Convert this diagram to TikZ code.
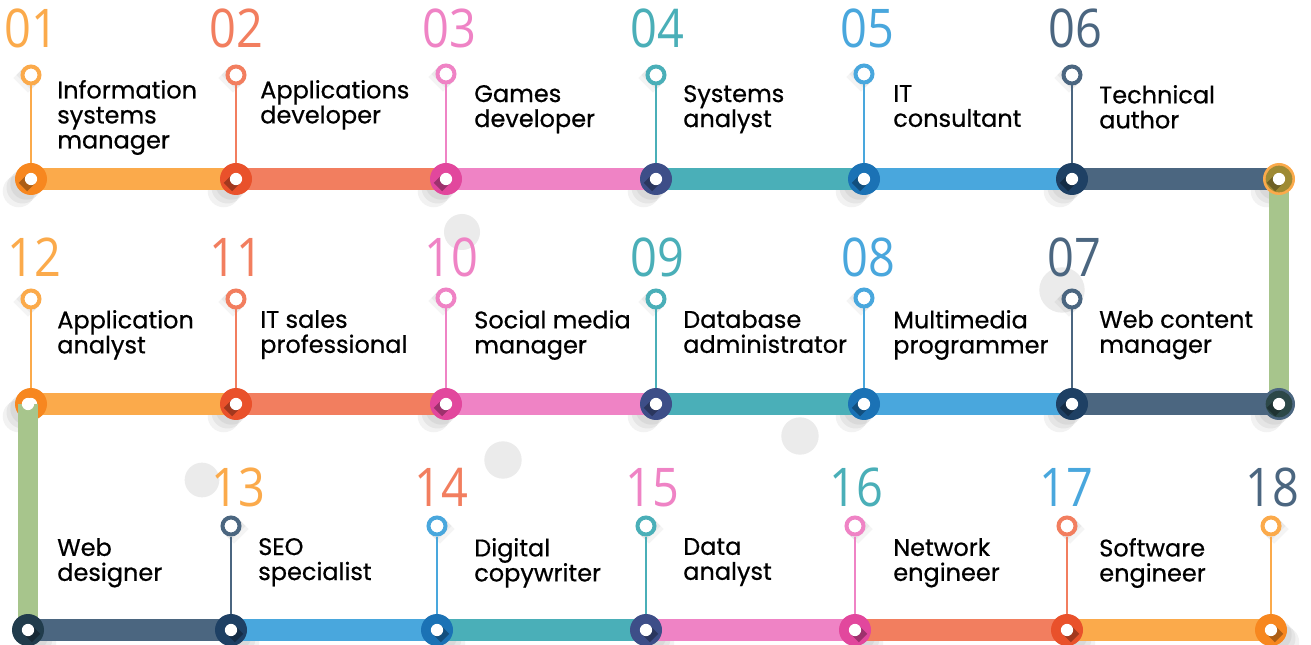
\documentclass[tikz,border=0pt]{standalone}
\usepackage{fontspec}
\setmainfont{Poppins}[UprightFeatures={FakeBold=0.6}]
\newfontfamily\numfont[FakeStretch=0.88]{Open Sans}
\definecolor{cO}{HTML}{FBAA4B}
\definecolor{cS}{HTML}{F27E5F}
\definecolor{cP}{HTML}{EF83C5}
\definecolor{cT}{HTML}{4AAFB8}
\definecolor{cB}{HTML}{49A7DD}
\definecolor{cL}{HTML}{4B6680}
\definecolor{cG}{HTML}{A7C58C}
\definecolor{dO}{HTML}{F7871F}
\definecolor{dS}{HTML}{E9512B}
\definecolor{dP}{HTML}{E2479D}
\definecolor{dT}{HTML}{3D4E88}
\definecolor{dB}{HTML}{1B72B5}
\definecolor{dL}{HTML}{1E4064}
\definecolor{kA}{HTML}{9E8A34}
\definecolor{kB}{HTML}{2C4848}
\definecolor{kC}{HTML}{213C4C}
\definecolor{bgc}{HTML}{EBEBEB}
% soft long shadow of a ring: coordinate, width, length, angle
\newcommand\lshad[4]{%
  \foreach \k in {0.35,0.7,1}{\draw[line width=#2,black,opacity=.045] (#1) -- ++(#4:{#3*\k});}}
% soft shadow of a junction disc: coordinate, angle
\newcommand\cshad[2]{%
  \foreach \k in {5,9,13}{\fill[black,opacity=.05] (#1) ++(#2:\k pt) circle[radius=12pt];}}
\newcommand\junc[3]{%
  \fill[#2] (#1) circle[radius=12pt];
  \draw[line width=9pt,black,opacity=.3] (#1) -- ++(#3:8.5pt);
  \fill[white] (#1) circle[radius=4.6pt];}
\begin{document}
\begin{tikzpicture}[x=0.75pt,y=-0.75pt,
  bar/.style={line width=17pt},
  vbar/.style={line width=15pt,cG},
  stem/.style={line width=1.9pt},
  ring/.style={circle,draw=#1,line width=3pt,fill=white,minimum size=12.75pt,inner sep=0},
  lab/.style={anchor=north west,inner sep=0,align=left,yshift=14pt,
    font=\fontsize{18}{18.75}\selectfont,execute at begin node={\rule{0pt}{14pt}}},
  num/.style={anchor=base,inner sep=0,text=#1,font=\numfont\fontsize{40}{40}\selectfont},
  blob/.style={fill=bgc}]
\useasboundingbox (0,0) rectangle (1311,645);
\fill[white] (0,0) rectangle (1311,645);
% decorative circles
\fill[blob] (462,232) circle[radius=13.5pt];
\fill[blob] (1062,290) circle[radius=17pt];
\fill[blob] (503,460) circle[radius=14pt];
\fill[blob] (800,436) circle[radius=14pt];
\fill[blob] (202,480) circle[radius=13pt];
% junction coordinates
\coordinate (j1) at (31,179);  \coordinate (j2) at (236,179);
\coordinate (j3) at (446,179); \coordinate (j4) at (656,179);
\coordinate (j5) at (864,179); \coordinate (j6) at (1072,179);
\coordinate (c1) at (1279,179);
\coordinate (j7) at (1072,404); \coordinate (j8) at (864,404);
\coordinate (j9) at (656,404);  \coordinate (j10) at (446,404);
\coordinate (j11) at (236,404); \coordinate (j12) at (31,404);
\coordinate (c2) at (1279,404); \coordinate (c3) at (28,404);
\coordinate (c4) at (28,630);
\coordinate (j13) at (231,630); \coordinate (j14) at (437,630);
\coordinate (j15) at (646,630); \coordinate (j16) at (855,630);
\coordinate (j17) at (1067,630); \coordinate (j18) at (1271,630);
% ring shadows
\foreach \x/\y in {31/75,236/75,446/74,656/75,864/74,1072/75,
                   1072/299,864/298,656/299,446/298,236/299,31/299}
  {\coordinate (tmp) at (\x,\y); \lshad{tmp}{15.5pt}{11pt}{225}}
\foreach \x/\y in {231/526,437/526,646/526,855/526,1067/526,1271/526}
  {\coordinate (tmp) at (\x,\y); \lshad{tmp}{15.5pt}{11pt}{315}}
% rings
\node[ring=cO] (r1) at (31,75) {};
\node[ring=cS] (r2) at (236,75) {};
\node[ring=cP] (r3) at (446,74) {};
\node[ring=cT] (r4) at (656,75) {};
\node[ring=cB] (r5) at (864,74) {};
\node[ring=cL] (r6) at (1072,75) {};
\node[ring=cL] (r7) at (1072,299) {};
\node[ring=cB] (r8) at (864,298) {};
\node[ring=cT] (r9) at (656,299) {};
\node[ring=cP] (r10) at (446,298) {};
\node[ring=cS] (r11) at (236,299) {};
\node[ring=cO] (r12) at (31,299) {};
\node[ring=cL] (r13) at (231,526) {};
\node[ring=cB] (r14) at (437,526) {};
\node[ring=cT] (r15) at (646,526) {};
\node[ring=cP] (r16) at (855,526) {};
\node[ring=cS] (r17) at (1067,526) {};
\node[ring=cO] (r18) at (1271,526) {};
% stems
\draw[stem,cO] (r1) -- (j1);   \draw[stem,cS] (r2) -- (j2);
\draw[stem,cP] (r3) -- (j3);   \draw[stem,cT] (r4) -- (j4);
\draw[stem,cB] (r5) -- (j5);   \draw[stem,cL] (r6) -- (j6);
\draw[stem,cL] (r7) -- (j7);   \draw[stem,cB] (r8) -- (j8);
\draw[stem,cT] (r9) -- (j9);   \draw[stem,cP] (r10) -- (j10);
\draw[stem,cS] (r11) -- (j11); \draw[stem,cO] (r12) -- (j12);
\draw[stem,cL] (r13) -- (j13); \draw[stem,cB] (r14) -- (j14);
\draw[stem,cT] (r15) -- (j15); \draw[stem,cP] (r16) -- (j16);
\draw[stem,cS] (r17) -- (j17); \draw[stem,cO] (r18) -- (j18);
% junction shadows (below the bars)
\foreach \j in {j1,j2,j3,j4,j5,j6,c1,j7,j8,j9,j10,j11,j12,c2}
  {\cshad{\j}{225}}
\foreach \j in {c4,j13,j14,j15,j16,j17,j18}
  {\cshad{\j}{315}}
% bars
\draw[bar,cO] (j1) -- (j2);  \draw[bar,cS] (j2) -- (j3);
\draw[bar,cP] (j3) -- (j4);  \draw[bar,cT] (j4) -- (j5);
\draw[bar,cB] (j5) -- (j6);  \draw[bar,cL] (j6) -- (c1);
\draw[bar,cL] (c2) -- (j7);  \draw[bar,cB] (j7) -- (j8);
\draw[bar,cT] (j8) -- (j9);  \draw[bar,cP] (j9) -- (j10);
\draw[bar,cS] (j10) -- (j11); \draw[bar,cO] (j11) -- (j12);
\draw[bar,cL] (c4) -- (j13); \draw[bar,cB] (j13) -- (j14);
\draw[bar,cT] (j14) -- (j15); \draw[bar,cP] (j15) -- (j16);
\draw[bar,cS] (j16) -- (j17); \draw[bar,cO] (j17) -- (j18);
% right corner
\draw[vbar] (c1) -- (c2);
\fill[cO] (c1) circle[radius=12pt];
\fill[kA] (c1) circle[radius=10pt];
\draw[line width=9pt,black,opacity=.3] (c1) -- ++(225:8.5pt);
\fill[white] (c1) circle[radius=4.6pt];
\fill[cL] (c2) circle[radius=12pt];
\fill[kB] (c2) circle[radius=10pt];
\draw[line width=9pt,black,opacity=.3] (c2) -- ++(225:8.5pt);
\fill[white] (c2) circle[radius=4.6pt];
% junctions
\junc{j1}{dO}{225} \junc{j2}{dS}{225} \junc{j3}{dP}{225}
\junc{j4}{dT}{225} \junc{j5}{dB}{225} \junc{j6}{dL}{225}
\junc{j7}{dL}{225} \junc{j8}{dB}{225} \junc{j9}{dT}{225}
\junc{j10}{dP}{225} \junc{j11}{dS}{225} \junc{j12}{dO}{225}
% left corner
\draw[vbar] (c3) -- (c4);
\fill[white] (c3) circle[radius=4.6pt];
\fill[kC] (c4) circle[radius=12pt];
\draw[line width=9pt,black,opacity=.3] (c4) -- ++(315:8.5pt);
\fill[white] (c4) circle[radius=4.6pt];
\junc{j13}{dL}{315} \junc{j14}{dB}{315} \junc{j15}{dT}{315}
\junc{j16}{dP}{315} \junc{j17}{dS}{315} \junc{j18}{dO}{315}
% numbers
\node[num=cO] (n1) at (31,48) {01};
\node[num=cS] (n2) at (236,48) {02};
\node[num=cP] (n3) at (449,48) {03};
\node[num=cT] (n4) at (657,48) {04};
\node[num=cB] (n5) at (867,48) {05};
\node[num=cL] (n6) at (1075,48) {06};
\node[num=cO] (n12) at (34,277) {12};
\node[num=cS] (n11) at (236,277) {11};
\node[num=cP] (n10) at (451,277) {10};
\node[num=cT] (n9) at (657,277) {09};
\node[num=cB] (n8) at (868,277) {08};
\node[num=cL] (n7) at (1074,277) {07};
\node[num=cO] (n13) at (238,506) {13};
\node[num=cS] (n14) at (441,506) {14};
\node[num=cP] (n15) at (652,506) {15};
\node[num=cT] (n16) at (856,506) {16};
\node[num=cB] (n17) at (1066,506) {17};
\node[num=cL] (n18) at (1272,506) {18};
% labels
\node[lab] (l1) at (57,98.5) {Information\\systems\\manager};
\node[lab] (l2) at (260,98.5) {Applications\\developer};
\node[lab] (l3) at (474,103.5) {Games\\developer};
\node[lab] (l4) at (683,103.5) {Systems\\analyst};
\node[lab] (l5) at (893,103.5) {IT\\consultant};
\node[lab] (l6) at (1099,103.5) {Technical\\author};
\node[lab] (l12) at (57,328.5) {Application\\analyst};
\node[lab] (l11) at (260,328.5) {IT sales\\professional};
\node[lab] (l10) at (474,328.5) {Social media\\manager};
\node[lab] (l9) at (683,328.5) {Database\\administrator};
\node[lab] (l8) at (893,328.5) {Multimedia\\programmer};
\node[lab] (l7) at (1099,328.5) {Web content\\manager};
\node[lab] (lw) at (57,556.5) {Web\\designer};
\node[lab] (l13) at (258,556.5) {SEO\\specialist};
\node[lab] (l14) at (474,556.5) {Digital\\copywriter};
\node[lab] (l15) at (683,556.5) {Data\\analyst};
\node[lab] (l16) at (893,556.5) {Network\\engineer};
\node[lab] (l17) at (1099,556.5) {Software\\engineer};
\end{tikzpicture}
\end{document}
